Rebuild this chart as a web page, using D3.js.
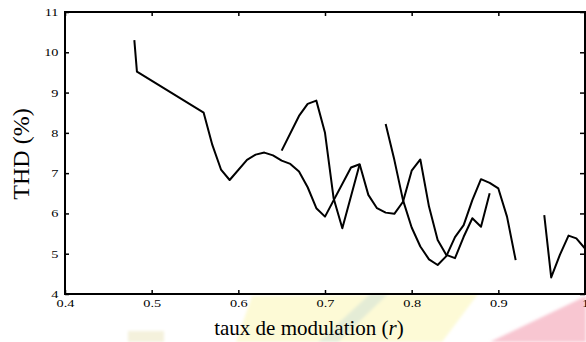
<!DOCTYPE html>
<html>
<head>
<meta charset="utf-8">
<script src="https://cdn.jsdelivr.net/npm/d3@7"></script>
<style>
  html, body { margin: 0; padding: 0; background: #fff; }
  svg { display: block; }
</style>
</head>
<body>
<svg id="chart" width="586" height="342"></svg>
<script>
// THD (%) versus modulation index r, four separate branches
const seriesA_r   = [0.48, 0.483, 0.56, 0.57, 0.58, 0.59, 0.61, 0.62, 0.63, 0.64, 0.65, 0.66, 0.67, 0.68, 0.69, 0.70, 0.73, 0.74, 0.75, 0.76, 0.77, 0.78, 0.79, 0.80, 0.81, 0.82, 0.83, 0.84, 0.85, 0.86, 0.87, 0.88, 0.89];
const seriesA_thd = [10.3, 9.52, 8.5, 7.7, 7.09, 6.83, 7.33, 7.46, 7.51, 7.44, 7.31, 7.23, 7.04, 6.65, 6.13, 5.92, 7.14, 7.22, 6.46, 6.13, 6.02, 5.99, 6.29, 7.06, 7.34, 6.17, 5.34, 4.97, 4.89, 5.42, 5.88, 5.67, 6.50];

const seriesB_r   = [0.65, 0.67, 0.68, 0.69, 0.70, 0.71, 0.72, 0.74];
const seriesB_thd = [7.56, 8.42, 8.72, 8.80, 8.00, 6.37, 5.63, 7.22];

const seriesC_r   = [0.77, 0.78, 0.79, 0.80, 0.81, 0.82, 0.83, 0.84, 0.85, 0.86, 0.87, 0.88, 0.89, 0.90, 0.91, 0.92];
const seriesC_thd = [8.22, 7.33, 6.33, 5.65, 5.18, 4.86, 4.72, 4.94, 5.41, 5.71, 6.33, 6.85, 6.76, 6.62, 5.92, 4.84];

const seriesD_r   = [0.953, 0.961, 0.971, 0.981, 0.990, 1.0];
const seriesD_thd = [5.96, 4.41, 4.97, 5.45, 5.38, 5.13];

const xTicks = [0.4, 0.5, 0.6, 0.7, 0.8, 0.9, 1];
const yTicks = [4, 5, 6, 7, 8, 9, 10, 11];

const svg = d3.select("#chart");
const plotL = 65, plotR = 585, plotT = 12, plotB = 294;

const x = d3.scaleLinear().domain([0.4, 1.0]).range([plotL, plotR]);
const y = d3.scaleLinear().domain([4, 11]).range([plotB, plotT]);

// faint coloured patches along the lower edge
const defs = svg.append("defs");
defs.append("filter").attr("id", "soft")
  .append("feGaussianBlur").attr("stdDeviation", 1.5);
const bg = svg.append("g").attr("filter", "url(#soft)");
bg.append("polygon").attr("points", "236,342 252,296 478,294 442,342").attr("fill", "#fdfad6");
bg.append("polygon").attr("points", "318,342 370,294 388,294 338,342").attr("fill", "#dde8d6").attr("opacity", 0.8);
bg.append("polygon").attr("points", "490,342 586,296 586,342").attr("fill", "#f8c6d1");
bg.append("rect").attr("x", 128).attr("y", 331).attr("width", 36).attr("height", 11).attr("fill", "#f4f1dc");

const serif = "'Liberation Serif', 'Times New Roman', serif";

// curves
const line = d3.line().x(d => x(d[0])).y(d => y(d[1]));
const series = [
  d3.zip(seriesA_r, seriesA_thd),
  d3.zip(seriesB_r, seriesB_thd),
  d3.zip(seriesC_r, seriesC_thd),
  d3.zip(seriesD_r, seriesD_thd)
];
svg.append("g").selectAll("path").data(series).join("path")
  .attr("d", line)
  .attr("fill", "none")
  .attr("stroke", "#000")
  .attr("stroke-width", 2)
  .attr("stroke-linejoin", "round");

// axes with inward ticks
const fmtX = d => d === 1 ? "1" : d3.format(".1f")(d);
const gx = svg.append("g").attr("transform", `translate(0,${plotB})`)
  .call(d3.axisBottom(x).tickValues(xTicks).tickSize(-4).tickPadding(5).tickFormat(fmtX));
const gxTop = svg.append("g").attr("transform", `translate(0,${plotT})`)
  .call(d3.axisTop(x).tickValues(xTicks).tickSize(-4).tickFormat(""));
const gy = svg.append("g").attr("transform", `translate(${plotL},0)`)
  .call(d3.axisLeft(y).tickValues(yTicks).tickSize(-4).tickPadding(6).tickFormat(d3.format("d")));
const gyR = svg.append("g").attr("transform", `translate(${plotR},0)`)
  .call(d3.axisRight(y).tickValues(yTicks).tickSize(-5).tickFormat(""));

[gx, gxTop, gy, gyR].forEach(g => {
  g.select(".domain").remove();
  g.selectAll(".tick line").attr("stroke", "#000").attr("stroke-width", 1.5);
});

gx.selectAll("text")
  .attr("font-family", serif).attr("font-size", 11).attr("fill", "#000")
  .attr("transform", "scale(1.3,1)");
gy.selectAll("text")
  .attr("font-family", serif).attr("font-size", 11).attr("fill", "#000")
  .attr("x", -5).attr("transform", "scale(1.3,1)");

// frame
svg.append("rect")
  .attr("x", plotL).attr("y", plotT)
  .attr("width", plotR - plotL).attr("height", plotB - plotT)
  .attr("fill", "none").attr("stroke", "#000").attr("stroke-width", 2);

// axis titles
const xl = svg.append("text")
  .attr("x", 309).attr("y", 335)
  .attr("text-anchor", "middle")
  .attr("font-family", serif).attr("font-size", 21).attr("fill", "#000");
xl.append("tspan").text("taux de modulation (");
xl.append("tspan").attr("font-style", "italic").text("r");
xl.append("tspan").text(")");

svg.append("text")
  .attr("transform", "translate(29,154) rotate(-90)")
  .attr("text-anchor", "middle")
  .attr("font-family", serif).attr("font-size", 24).attr("fill", "#000")
  .text("THD (%)");
</script>
</body>
</html>
